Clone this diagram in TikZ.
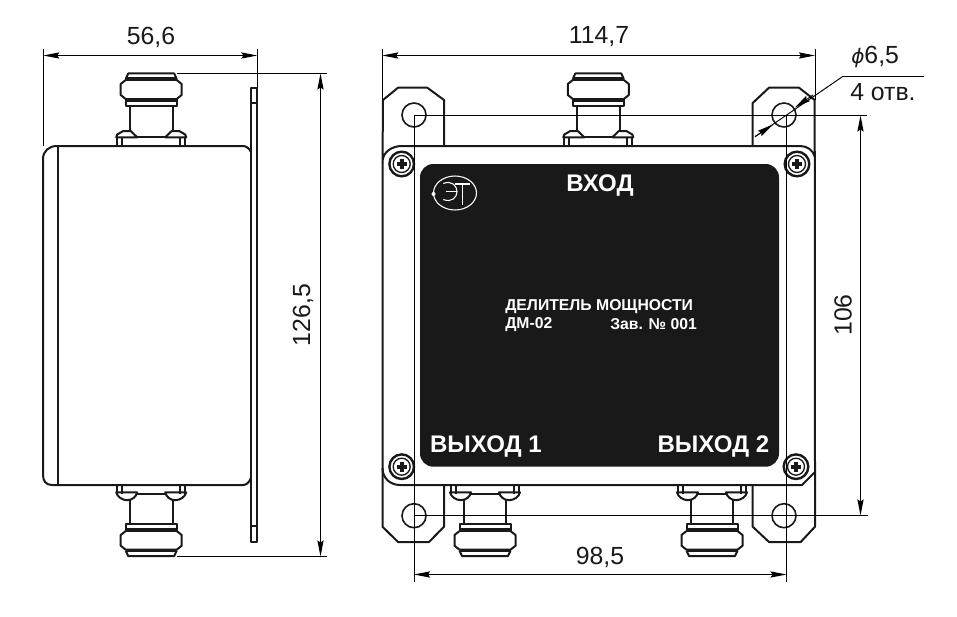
\documentclass[tikz,border=0pt]{standalone}
\usepackage{fontspec}
\setmainfont{Liberation Sans}
\newfontfamily\phifont{DejaVu Sans}
\usetikzlibrary{arrows.meta}
\tikzset{
  heavy/.style={line width=1.5pt,line join=round,draw=black!90},
  thin line/.style={line width=0.7pt,draw=black},
  dimline/.style={line width=0.7pt,draw=black,{Stealth[length=12pt,width=4.6pt,inset=1.5pt]}-{Stealth[length=12pt,width=4.6pt,inset=1.5pt]}},
  onetip/.style={line width=0.7pt,draw=black,-{Stealth[length=12pt,width=4.8pt,inset=1.5pt]}},
  dimtext/.style={font=\fontsize{18.6}{20}\selectfont,inner sep=0pt,text=black!90},
  paneltext/.style={font=\fontsize{18}{20}\selectfont\bfseries,inner sep=0pt,text=white},
  smalltext/.style={font=\fontsize{11.8}{13}\selectfont\bfseries,inner sep=0pt,text=white,anchor=west},
  logo/.style={draw=white,line width=0.8pt},
}
\newcommand{\legs}{%
  \draw[heavy] (-34,0)--(-34,8.7) (-29,0)--(-29,8.7) (34,0)--(34,8.7) (29,0)--(29,8.7);
  \draw[heavy] (-14,8.7)--(14,8.7);
  \draw[heavy] (-21.3,15)--(-21.3,40) (21.3,15)--(21.3,40);
  \draw[heavy] (-25.5,40) rectangle (25.5,47);
  \fill[black!90] (-25.5,43.5) rectangle (25.5,47.5);
  \draw[heavy] (-25.5,47)--(-30.5,51)--(-30.5,62)--(-25.5,66)--(25.5,66)--(30.5,62)--(30.5,51)--(25.5,47);
  \fill[black!90] (-25.5,65.5) rectangle (25.5,68.5);
  \draw[heavy] (-25.5,67)--(-23,72.5)--(23,72.5)--(25.5,67);
}
\newcommand{\connup}[2]{\begin{scope}[shift={(#1,#2)},yscale=-1]
  \legs
  \draw[heavy] (-35,8.7)--(-34,11.5)--(-28,15)--(-20.5,15)--(-14,8.7)--cycle;
  \draw[heavy] (35,8.7)--(34,11.5)--(28,15)--(20.5,15)--(14,8.7)--cycle;
\end{scope}}
\newcommand{\conndown}[2]{\begin{scope}[shift={(#1,#2)},yscale=0.98]
  \legs
  \draw[heavy] (-35,7.5)--(-14,7.5) .. controls (-15,12) and (-19,15.5) .. (-24,15.5) .. controls (-29,15.5) and (-34,12) .. (-35,7.5)--cycle;
  \draw[heavy] (35,7.5)--(14,7.5) .. controls (15,12) and (19,15.5) .. (24,15.5) .. controls (29,15.5) and (34,12) .. (35,7.5)--cycle;
\end{scope}}
\newcommand{\screw}[2]{\begin{scope}[shift={(#1,#2)}]
  \draw[line width=1.8pt,draw=black!90] (0,0) circle (12.3);
  \draw[line width=1pt,draw=black!90] (0,0) circle (8.5);
  \draw[line width=3pt,draw=black!90] (-5,0)--(5,0) (0,-5)--(0,5);
\end{scope}}
\begin{document}
\begin{tikzpicture}[x=0.75pt,y=-0.75pt]
\useasboundingbox[fill=white] (0,0) rectangle (957,617);
\coordinate (aL) at (43.3,55.5); \coordinate (aR) at (257.3,55.5);
\coordinate (bT) at (320.5,73.5); \coordinate (bB) at (320.5,556.5);
\coordinate (cL) at (382.3,55.5); \coordinate (cR) at (815,55.5);
\coordinate (hTL) at (414,115.5); \coordinate (hTR) at (786.5,115.5);
\coordinate (hBL) at (414,515.5);
\coordinate (dT) at (860.5,115.5); \coordinate (dB) at (860.5,515.5);
\coordinate (eL) at (414,574.5); \coordinate (eR) at (786.5,574.5);
\coordinate (lead0) at (755,136.7); \coordinate (lead1) at (842.7,76.5); \coordinate (lead2) at (924,76.5);
% ---------- left view
\connup{151.2}{146}
\conndown{151.2}{485}
\draw[heavy] (251,152) .. controls (249,148) and (246,146) .. (243,146) -- (57,146) .. controls (49,146) and (43,151) .. (43,159)
  -- (43,475) .. controls (43,481) and (46,485) .. (52,485) -- (243,485) .. controls (246,485) and (249,483) .. (251,478);
\draw[heavy] (57.7,146)--(57.7,485);
\draw[heavy] (251,87.7) rectangle (257,542.3);
\draw[heavy] (251,102.7)--(257,102.7) (251,526)--(257,526);
\draw[thin line] (43.5,49)--(43.5,146);
\draw[thin line] (257.5,49)--(257.5,88);
\draw[thin line] (177,73.5)--(326.7,73.5);
\draw[thin line] (177,556.5)--(326.7,556.5);
\draw[dimline] (aL)--(aR);
\draw[dimline] (bT)--(bB);
\node[dimtext] (n566) at (151,37) {56,6};
\node[dimtext,rotate=90] (n1265) at (303,315) {126,5};
% ---------- right view connectors
\connup{598.3}{146}
\conndown{485}{485}
\conndown{712}{485}
\draw[heavy] (444,146)--(444,100)--(427.3,87.7)--(398,87.7)--(383,100)--(382.5,162)
  .. controls (382.5,152) and (392,146) .. (402,146) -- (800,146)
  .. controls (807,146) and (813,150) .. (815,157);
\draw[heavy] (752.7,146)--(752.7,103)--(769,87.7)--(799,87.7)--(814.7,100)--(815,472)--(802,485)--(400,485)
  .. controls (390,485) and (382.5,478) .. (382.5,468);
\draw[heavy] (382.5,162)--(382.5,526.7)--(398,542)--(429,542)--(444,526.7)--(444,485);
\draw[heavy] (752.7,485)--(752.7,526.7)--(769,542)--(800.7,542)--(815,526.7)--(815,472);
\foreach \hx/\hy in {414/115,784/115,414/515.7,784/515.7}{
  \draw[line width=1.2pt,draw=black!90] (\hx,\hy) circle (12);
}
\fill[black!90,rounded corners=10] (420,164) rectangle (779,466.7);
\screw{401.7}{164}
\screw{797}{164}
\screw{401.7}{466.7}
\screw{796}{466.7}
\draw[logo] (455,193) ellipse (21.5 and 17);
\fill[white] (433.5,194) circle (2);
\draw[logo] (443.3,183.5) .. controls (452,180) and (457,186) .. (457,191.7) .. controls (457,197) and (452,203) .. (443.3,199.5);
\draw[logo] (446,191.7)--(457,191.7);
\draw[logo] (455,184)--(470,184) (462.7,184)--(462.7,205);
\node[paneltext] (vhod) at (600,186) {ВХОД};
\node[paneltext] (vyh1) at (486,447) {ВЫХОД 1};
\node[paneltext] (vyh2) at (713.5,447) {ВЫХОД 2};
\node[smalltext] (del) at (505,306.5) {ДЕЛИТЕЛЬ МОЩНОСТИ};
\node[smalltext] (dm) at (505,324.5) {ДМ-02};
\node[smalltext] (zav) at (610,324.5) {Зав. № 001};
\draw[thin line] (382.5,49)--(382.5,100);
\draw[thin line] (815.2,49)--(815.2,100);
\draw[dimline] (cL)--(cR);
\node[dimtext] (n1147) at (599,37) {114,7};
\draw[thin line] (hTL)--(867,115.5);
\draw[thin line] (hBL)--(867.7,515.5);
\draw[thin line] (hTL)--(414,581.7);
\draw[thin line] (hTR)--(786.5,581.7);
\draw[dimline] (dT)--(dB);
\node[dimtext,rotate=90] (n106) at (843,315) {106};
\draw[dimline] (eL)--(eR);
\node[dimtext] (n985) at (600,557) {98,5};
\draw[thin line] (lead0)--(lead1)--(lead2);
\coordinate (tipA) at (773,124.5);
\coordinate (tipB) at (795,107.5); \coordinate (tailB) at (813,95);
\draw[onetip] (lead0)--(tipA);
\draw[onetip] (tailB)--(tipB);
\node[dimtext,anchor=west] (dia) at (851,57) {{\phifont\itshape\fontsize{15}{18}\selectfont ϕ}6,5};
\node[dimtext,anchor=west] (otv) at (850,92) {4 отв.};
\end{tikzpicture}
\end{document}
